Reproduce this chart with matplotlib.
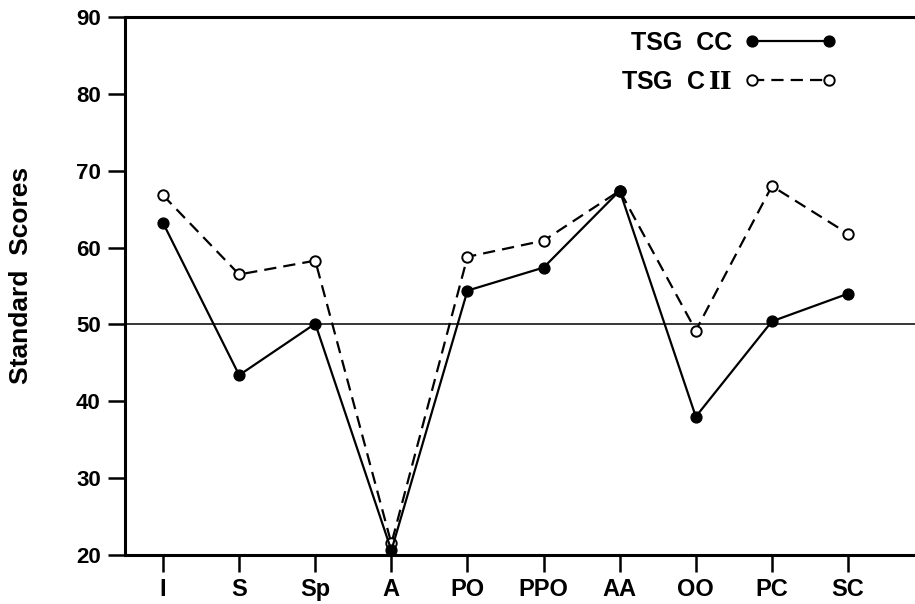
import matplotlib
matplotlib.use("Agg")
import matplotlib.pyplot as plt

plt.rcParams['font.family'] = ['Liberation Sans', 'DejaVu Sans']
plt.rcParams['mathtext.fontset'] = 'dejavuserif'

categories = ["I", "S", "Sp", "A", "PO", "PPO", "AA", "OO", "PC", "SC"]
tsg_cc = [63.2, 43.4, 50.1, 20.6, 54.4, 57.4, 67.4, 38.0, 50.4, 54.0]
tsg_c2 = [66.8, 56.5, 58.3, 21.5, 58.8, 60.9, 67.4, 49.2, 68.0, 61.8]
yticks = [20, 30, 40, 50, 60, 70, 80, 90]

fig = plt.figure(figsize=(9.15, 6.04), dpi=100)
ax = fig.add_axes([125/915, 49/604, 1 - 125/915, (555-17)/604])

x = list(range(len(categories)))
ax.axhline(50, color='black', lw=1.1, zorder=1)
ax.plot(x, tsg_c2, color='black', lw=1.6, ls=(0, (5.5, 3.2)), marker='o',
        markersize=7.5, markerfacecolor='white', markeredgecolor='black',
        markeredgewidth=1.4, label=r'TSG  C$\,\mathbf{II}$', zorder=2)
ax.plot(x, tsg_cc, color='black', lw=1.6, ls='-', marker='o',
        markersize=7.8, markerfacecolor='black', markeredgecolor='black',
        label='TSG  CC', zorder=3)

ax.set_xlim(-0.5, 9.88)
ax.set_ylim(20, 90)
ax.set_xticks(x)
ax.set_xticklabels(categories, fontsize=17, fontweight='bold')
ax.set_yticks(yticks)
ax.set_yticklabels([str(v) for v in yticks], fontsize=16, fontweight='bold')
ax.tick_params(axis='both', direction='out', length=12.5, width=1.8)
ax.tick_params(axis='y', pad=5)
ax.tick_params(axis='x', pad=4)
for s in ['left', 'bottom', 'top']:
    ax.spines[s].set_linewidth(2.2)
ax.spines['right'].set_visible(False)
ax.set_ylabel('Standard  Scores', fontsize=19, fontweight='bold')
ax.yaxis.set_label_coords(-0.116, 0.52)

handles, labels = ax.get_legend_handles_labels()
leg = ax.legend(handles[::-1], labels[::-1], loc='upper right',
                bbox_to_anchor=(0.9007, 0.974), markerfirst=False, numpoints=2,
                frameon=False, handlelength=3.7, handletextpad=0.46,
                labelspacing=0.6, borderpad=0, borderaxespad=0,
                prop={'weight': 'bold', 'size': 18})

fig.savefig('out.png', dpi=100)
